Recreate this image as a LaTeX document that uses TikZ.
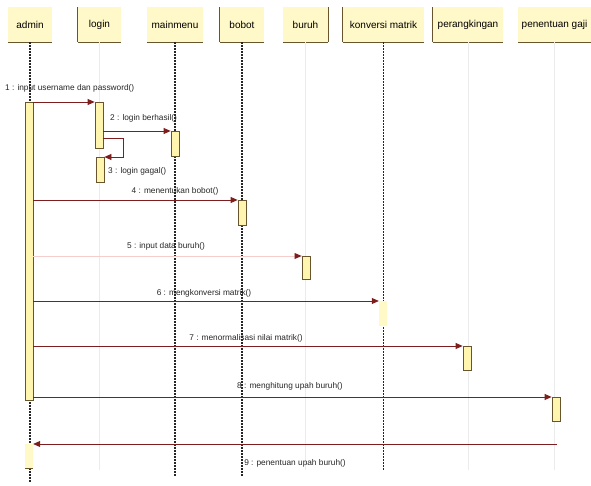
\documentclass[tikz,border=0pt]{standalone}
\usepackage{fontspec}
\setmainfont{Liberation Sans}
\usetikzlibrary{arrows.meta, positioning, calc}
\definecolor{HeadFill}{RGB}{255,248,200}
\definecolor{BarFill}{RGB}{255,245,175}
\definecolor{MsgRed}{RGB}{125,30,30}
\definecolor{EdgeBrown}{RGB}{105,85,45}
\definecolor{PaleMsg}{RGB}{245,205,205}

\begin{document}
\begin{tikzpicture}[x=1pt, y=-1pt, >={Triangle[length=7pt,width=6pt]},
        head/.style={fill=HeadFill, minimum height=35pt, inner sep=0pt, font=\fontsize{10}{12}\selectfont},
        bar/.style={fill=BarFill, draw=EdgeBrown, line width=0.8pt, minimum width=8pt, inner sep=0pt, anchor=north},
        softbar/.style={fill=BarFill!70, minimum width=8pt, inner sep=0pt, anchor=north},
        life/.style={black!85, line width=1.2pt, dash pattern=on 1.5pt off 1.5pt},
        faintlife/.style={black!8, line width=0.6pt},
        msg/.style={->, MsgRed, line width=0.8pt},
        lbl/.style={font=\fontsize{8.3}{10}\selectfont, inner sep=1pt, text=black!85}]
        \useasboundingbox (0,0) rectangle (591,486);
        % Lifeline heads
        \node [head, minimum width=44pt] (admin) at (30,24.5) {admin};
        \node [head, minimum width=43pt] (login) at (99.5,24.5) {login};
        \node [head, minimum width=56pt] (mainmenu) at (175,24.5) {mainmenu};
        \node [head, minimum width=44pt] (bobot) at (242,24.5) {bobot};
        \node [head, minimum width=45pt] (buruh) at (305.5,24.5) {buruh};
        \node [head, minimum width=81pt] (konversi) at (383.5,24.5) {konversi matrik};
        \node [head, minimum width=70pt] (rangking) at (468,24.5) {perangkingan};
        \node [head, minimum width=73pt] (gaji) at (554.5,24.5) {penentuan gaji};
        \foreach \h in {admin, login, mainmenu, bobot, buruh, konversi, rangking, gaji}
            \draw [EdgeBrown, line width=1pt] (\h.south west) -- (\h.south east);
        \foreach \h in {login, bobot, konversi, rangking}
            \draw [EdgeBrown, line width=0.8pt] (\h.south west) -- (\h.north west);
        \draw [EdgeBrown, line width=0.8pt] (buruh.south east) -- (buruh.north east);
        % Lifelines
        \foreach \h/\e in {login/470, buruh/470, rangking/470, gaji/470}
            \draw [faintlife] (\h.south) -- (\h.south |- 0,\e);
        \foreach \h/\e in {admin/482, mainmenu/476, bobot/476, konversi/470}
            \draw [life] (\h.south) -- (\h.south |- 0,\e);
        % Activation bars
        \node [bar, minimum height=298pt] (adm1) at (29,102) {};
        \node [bar, minimum height=46pt] (log1) at (99,102) {};
        \node [bar, minimum height=25pt] (log2) at (100,157) {};
        \node [bar, minimum height=25pt] (mm1) at (175,131) {};
        \node [bar, minimum height=25pt] (bob1) at (242,200) {};
        \node [bar, minimum height=23pt] (bur1) at (306,256) {};
        \node [softbar, minimum height=25pt] (kon1) at (383,301) {};
        \node [bar, minimum height=24pt] (per1) at (467,346) {};
        \node [bar, minimum height=24pt] (gaj1) at (556,397) {};
        \node [softbar, minimum height=24pt] (adm2) at (29,444) {};
        \draw [EdgeBrown, line width=0.8pt] (adm2.south west) -- (adm2.south east);
        % Messages
        \coordinate (loop) at (123,138);
        \coordinate (ret) at (557,444);
        \draw [msg] (adm1.east |- log1.north) -- (log1.north west);
        \draw [msg] (log1.east |- mm1.north) -- (mm1.north west);
        \draw [msg] (loop -| log1.east) -- (loop) |- (log2.north east);
        \draw [msg] (adm1.east |- bob1.north) -- (bob1.north west);
        \draw [msg, PaleMsg] (adm1.east |- bur1.north) -- (bur1.north west);
        \fill [MsgRed] (bur1.north west) -- ++(-7,-3) -- ++(0,6) -- cycle;
        \draw [msg] (adm1.east |- kon1.north) -- (kon1.north west);
        \draw [msg] (adm1.east |- per1.north) -- (per1.north west);
        \draw [msg] (adm1.east |- gaj1.north) -- (gaj1.north west);
        \draw [msg] (ret) -- (adm2.north east);
        % Message labels
        \node [lbl, anchor=west] (t1) at (4,88) {1 : input username dan password()};
        \node [lbl, anchor=west] (t2) at (109,118) {2 : login berhasil()};
        \node [lbl, anchor=west] (t3) at (107,171) {3 : login gagal()};
        \node [lbl] (t4) at (175,191) {4 : menentukan bobot()};
        \node [lbl] (t5) at (166,246) {5 : input data buruh()};
        \node [lbl] (t6) at (204,293) {6 : mengkonversi matrik()};
        \node [lbl] (t7) at (246,338) {7 : menormalisasi nilai matrik()};
        \node [lbl] (t8) at (290,386) {8 : menghitung upah buruh()};
        \node [lbl] (t9) at (295,463) {9 : penentuan upah buruh()};
    \end{tikzpicture}
\end{document}
